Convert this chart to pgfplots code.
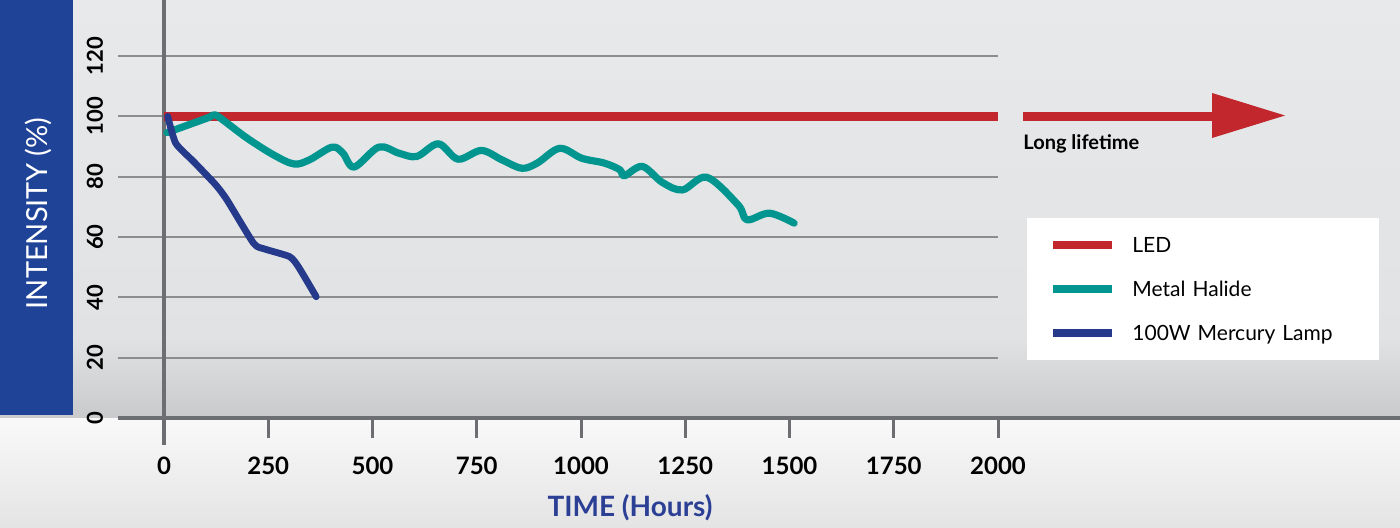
\documentclass[border=0pt]{standalone}
\usepackage{fontspec}
\setmainfont{Lato}
\usepackage{pgfplots}
\pgfplotsset{compat=1.18}
\definecolor{ledred}{HTML}{C1272D}
\definecolor{teal2}{HTML}{00968F}
\definecolor{navy}{HTML}{263A8B}
\definecolor{band}{HTML}{1F4397}
\definecolor{gridgray}{HTML}{8C8D8F}
\definecolor{axisgray}{HTML}{6D6E71}
\definecolor{titleblue}{HTML}{2B3F95}
\definecolor{bgA}{HTML}{E8E9EA}
\definecolor{bgB}{HTML}{E1E2E3}
\definecolor{bgC}{HTML}{C9CACC}
\definecolor{lowA}{HTML}{F9F9F9}
\definecolor{lowB}{HTML}{E4E4E5}
\begin{document}
\begin{tikzpicture}
\useasboundingbox (-82pt,-54.5pt) rectangle (618pt,209pt);
% backgrounds
\shade[top color=bgA, bottom color=bgB] (-82pt,40pt) rectangle (618pt,209pt);
\shade[top color=bgB, bottom color=bgC] (-82pt,0pt) rectangle (618pt,40.1pt);
\shade[top color=lowA, bottom color=lowB] (-82pt,-54.5pt) rectangle (618pt,0pt);
\fill[band] (-82pt,1.5pt) rectangle (-45.5pt,209pt);
\node[white, rotate=90, font=\fontsize{14.5}{17}\selectfont] at (-63pt,102.25pt) {INTENSITY (\%)};
% grid lines
\foreach \k in {1,...,6} \draw[gridgray, line width=1pt] (-23pt,\k*30.1667pt) -- (417pt,\k*30.1667pt);
% x axis line and ticks
\draw[axisgray, line width=2pt] (-23pt,0pt) -- (618pt,0pt);
\foreach \k in {1,...,8} \draw[axisgray, line width=1.5pt] (\k*52.125pt,0pt) -- (\k*52.125pt,-10pt);
% y axis line
\draw[axisgray, line width=2pt] (0pt,209pt) -- (0pt,-13.5pt);
% long lifetime arrow
\fill[ledred] (429.5pt,148.75pt) rectangle (525pt,153.25pt);
\fill[ledred] (524pt,162.5pt) -- (560.5pt,151.25pt) -- (524pt,140pt) -- cycle;
\node[anchor=base west, inner sep=0pt, font=\bfseries\fontsize{10}{12}\selectfont] at (429.5pt,134.5pt) {Long lifetime};
\node[titleblue, font=\bfseries\fontsize{14}{17}\selectfont] at (233pt,-45pt) {TIME (Hours)};
\begin{axis}[
 at={(0pt,0pt)}, anchor=south west,
 scale only axis, width=417pt, height=181pt,
 xmin=0, xmax=2000, ymin=0, ymax=120,
 clip=false,
 axis x line*=bottom, axis y line*=left,
 axis line style={draw=none},
 major tick style={draw=none},
 xtick={0,250,500,750,1000,1250,1500,1750,2000},
 xticklabels={0,250,500,750,1000,1250,1500,1750,2000},
 ytick={0,20,40,60,80,100,120},
 yticklabels={0,20,40,60,80,100,120},
 xticklabel style={anchor=center, yshift=-24pt, font=\bfseries\fontsize{12}{14}\selectfont},
 yticklabel style={anchor=center, xshift=-34.5pt, rotate=90, font=\bfseries\fontsize{11}{13}\selectfont},
 legend style={at={(1.0348,0.5525)}, anchor=north west, draw=none, fill=white,
   inner xsep=11pt, inner ysep=9.7pt, row sep=14.4pt,
   font=\fontsize{10.5}{12}\selectfont,
   nodes={inner sep=0pt, text height=7.5pt, text depth=0pt, text width=112.5pt, align=left},
   /tikz/every odd column/.append style={column sep=8pt}},
 legend cell align=left,
 legend image code/.code={\draw[#1, line width=4pt, line cap=butt] (0pt,0pt) -- (29.5pt,0pt);},
]
\addplot[ledred, line width=4.5pt] coordinates {(0,100) (2000,100)};
\addlegendentry{LED}
\addplot[teal2, line width=3.6pt, smooth, tension=0.55, line cap=round, line join=round] coordinates {
(7,94.6) (103,99.4) (122,100.5) (146,98.3) (199,92.8) (263,87.2) (312,84.2) (349,85.6)
(403,89.8) (429,87.8) (456,83.2) (515,89.8) (563,87.8) (606,86.7) (658,90.9) (705,85.8)
(761,88.7) (810,85.6) (858,82.8) (895,84.5) (949,89.4) (1002,86.1) (1056,84.5) (1093,82.3)
(1104,80.3) (1147,83.4) (1195,78.1) (1243,75.6) (1302,79.8) (1377,70.6) (1398,65.7)
(1452,67.9) (1511,64.6)};
\addlegendentry{Metal Halide}
\addplot[navy, line width=3.4pt, smooth, tension=0.35, line cap=round, line join=round] coordinates {
(9,100) (28,91.1) (71,85) (124,77.3) (151,72.3) (215,57.9) (242,56) (301,53.5) (322,50.2) (365,40.2)};
\addlegendentry{100W Mercury Lamp}
\end{axis}
\end{tikzpicture}
\end{document}
